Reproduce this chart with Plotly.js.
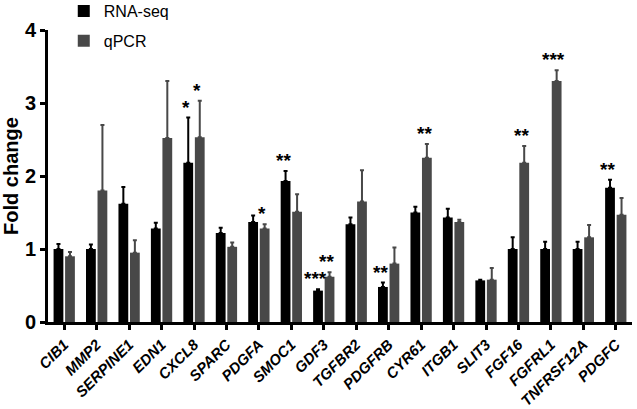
<!DOCTYPE html>
<html><head><meta charset="utf-8">
<script src="https://cdn.plot.ly/plotly-3.0.1.min.js"></script>
<style>html,body{margin:0;padding:0;background:#fff}#chart{width:637px;height:409px}</style>
</head><body><div id="chart"></div>
<script>
const genes = ["CIB1","MMP2","SERPINE1","EDN1","CXCL8","SPARC","PDGFA","SMOC1","GDF3","TGFBR2","PDGFRB","CYR61","ITGB1","SLIT3","FGF16","FGFRL1","TNFRSF12A","PDGFC"];
const rnaSeq    = [1.00,1.00,1.62,1.28,2.18,1.22,1.37,1.93,0.43,1.34,0.48,1.50,1.43,0.57,1.00,1.00,1.00,1.84];
const rnaSeqErr = [0.07,0.06,0.23,0.08,0.62,0.07,0.09,0.14,0.02,0.09,0.06,0.08,0.12,0.01,0.16,0.10,0.10,0.11];
const qpcr      = [0.90,1.80,0.95,2.52,2.53,1.03,1.28,1.51,0.62,1.65,0.80,2.25,1.37,0.58,2.18,3.30,1.16,1.47];
const qpcrErr   = [0.06,0.90,0.17,0.78,0.50,0.06,0.06,0.24,0.06,0.43,0.22,0.19,0.03,0.16,0.23,0.15,0.17,0.23];
const rnaSeqSig = ["","","","","*","","","**","***","","**","","","","","","","**"];
const qpcrSig   = ["","","","","*","","*","","**","","","**","","","**","***","",""];

const gray = "#484848";
function barTrace(name, y, err, color){
  return {type:"bar", name:name, x:genes, y:y, marker:{color:color, line:{width:0}},
    legendgroup:name,
    error_y:{type:"data", array:err, arrayminus:y.map(()=>0), symmetric:false, color:color, thickness:2, width:2}};
}
const data = [barTrace("RNA-seq", rnaSeq, rnaSeqErr, "#000000"), barTrace("qPCR", qpcr, qpcrErr, gray)];

const annotations = [];
function addSig(sig, y, err, shift){
  sig.forEach((s,i)=>{ if(!s) return;
    annotations.push({x:genes[i], y:y[i]+err[i], xref:"x", yref:"y", text:s, showarrow:false,
      xshift:shift, yanchor:"bottom", yshift:-2, font:{family:"Liberation Sans, Arial", size:19, weight:"bold", color:"#000"}});
  });
}
addSig(rnaSeqSig, rnaSeq, rnaSeqErr, -8);
addSig(qpcrSig, qpcr, qpcrErr, 3);

const layout = {
  width:637, height:409,
  margin:{l:48, r:5, t:30, b:87, autoexpand:false},
  paper_bgcolor:"#fff", plot_bgcolor:"#fff",
  barmode:"group", bargap:0.29, bargroupgap:0.15,
  font:{family:"Liberation Sans, Arial", color:"#000"},
  showlegend:true,
  legend:{x:0.027, y:1.123, xanchor:"left", yanchor:"top", tracegroupgap:6, font:{size:16}, bgcolor:"rgba(0,0,0,0)"},
  xaxis:{type:"category", tickangle:-45, automargin:false, showline:true, linecolor:"#000", linewidth:3, ticks:"outside", ticklen:5, tickwidth:3, tickcolor:"#000",
    tickfont:{size:15, family:"Liberation Sans, Arial", weight:"bold", style:"italic"}, showgrid:false, zeroline:false},
  yaxis:{range:[0,4], tickvals:[0,1,2,3,4], automargin:false, showline:true, linecolor:"#000", linewidth:3, ticks:"outside", ticklen:5, tickwidth:3, tickcolor:"#000",
    tickfont:{size:20, weight:"bold"}, showgrid:false, zeroline:false,
    title:{text:"Fold change", font:{size:20, weight:"bold"}, standoff:6}},
  annotations:annotations
};
Plotly.newPlot("chart", data, layout, {displayModeBar:false, staticPlot:true});
</script></body></html>
